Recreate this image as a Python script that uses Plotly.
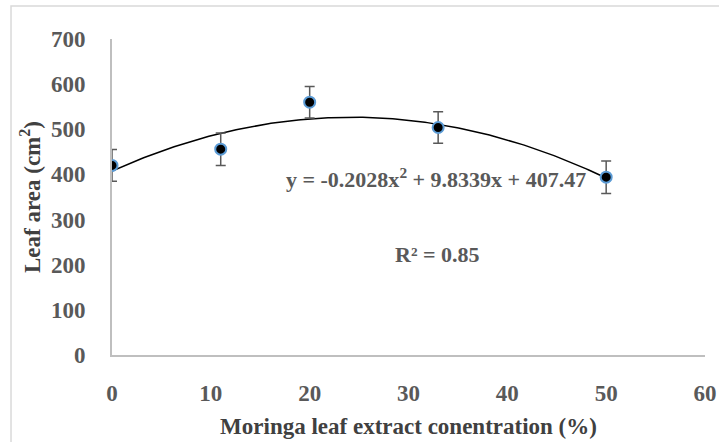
import plotly.graph_objects as go
import numpy as np

# Data
concentration = [0, 11, 20, 33, 50]
leaf_area = [420, 456, 560, 504, 394]
error = [35, 36, 35, 35, 36]
trend_coeffs = [-0.2028, 9.8339, 407.47]  # quadratic trendline shown on chart
x_ticks = [0, 10, 20, 30, 40, 50, 60]
y_ticks = [0, 100, 200, 300, 400, 500, 600, 700]
equation_text = "y = -0.2028x<sup>2</sup> + 9.8339x + 407.47"
r2_text = "R² = 0.85"

font_family = "Liberation Serif, Times New Roman, serif"

xs = np.linspace(min(concentration), max(concentration), 200)
ys = np.polyval(trend_coeffs, xs)

fig = go.Figure()
fig.add_trace(go.Scatter(x=xs, y=ys, mode="lines",
                         line=dict(color="black", width=1.5),
                         hoverinfo="skip", showlegend=False))
fig.add_trace(go.Scatter(
    x=concentration, y=leaf_area, mode="markers",
    marker=dict(size=11, color="black", line=dict(color="#5B9BD5", width=2)),
    error_y=dict(type="data", array=error, visible=True,
                 color="#595959", thickness=1.5, width=5),
    showlegend=False))

fig.add_annotation(x=32.8, y=393, xref="x", yref="y", text=equation_text,
                   showarrow=False,
                   font=dict(family=font_family, size=22, color="#595959",
                             weight="bold"))
fig.add_annotation(x=32.9, y=222, xref="x", yref="y", text=r2_text,
                   showarrow=False,
                   font=dict(family=font_family, size=22, color="#595959",
                             weight="bold"))

# outer chart border
fig.add_shape(type="rect", xref="paper", yref="paper",
              x0=-0.1703, x1=1.05, y0=-0.35, y1=1.1044,
              line=dict(color="#D9D9D9", width=1.5), layer="below")

fig.update_layout(
    width=719, height=442,
    margin=dict(l=112, r=14, t=39, b=87),
    paper_bgcolor="white", plot_bgcolor="white",
    font=dict(family=font_family),
)
fig.update_xaxes(
    range=[0, 60], tickvals=x_ticks, showgrid=False, zeroline=False,
    showline=True, linecolor="#BFBFBF", linewidth=2, automargin=False,
    ticks="", ticklabelstandoff=16,
    tickfont=dict(family=font_family, size=23, color="#595959", weight="bold"),
    title=dict(text="Moringa leaf extract conentration (%)",
               font=dict(family=font_family, size=23, color="#404040",
                         weight="bold"),
               standoff=13),
)
fig.update_yaxes(
    range=[0, 700], tickvals=y_ticks, showgrid=False, zeroline=False,
    showline=True, linecolor="#BFBFBF", linewidth=2, automargin=False,
    ticks="", ticklabelstandoff=20,
    tickfont=dict(family=font_family, size=23, color="#595959", weight="bold"),
    title=dict(text="Leaf area (cm<sup>2</sup>)",
               font=dict(family=font_family, size=23, color="#404040",
                         weight="bold"),
               standoff=4),
)

fig.write_html(
    "out.html",
    config={"displayModeBar": False},
    post_script="document.body.style.margin='0';"
                "document.body.style.overflow='hidden';",
)
